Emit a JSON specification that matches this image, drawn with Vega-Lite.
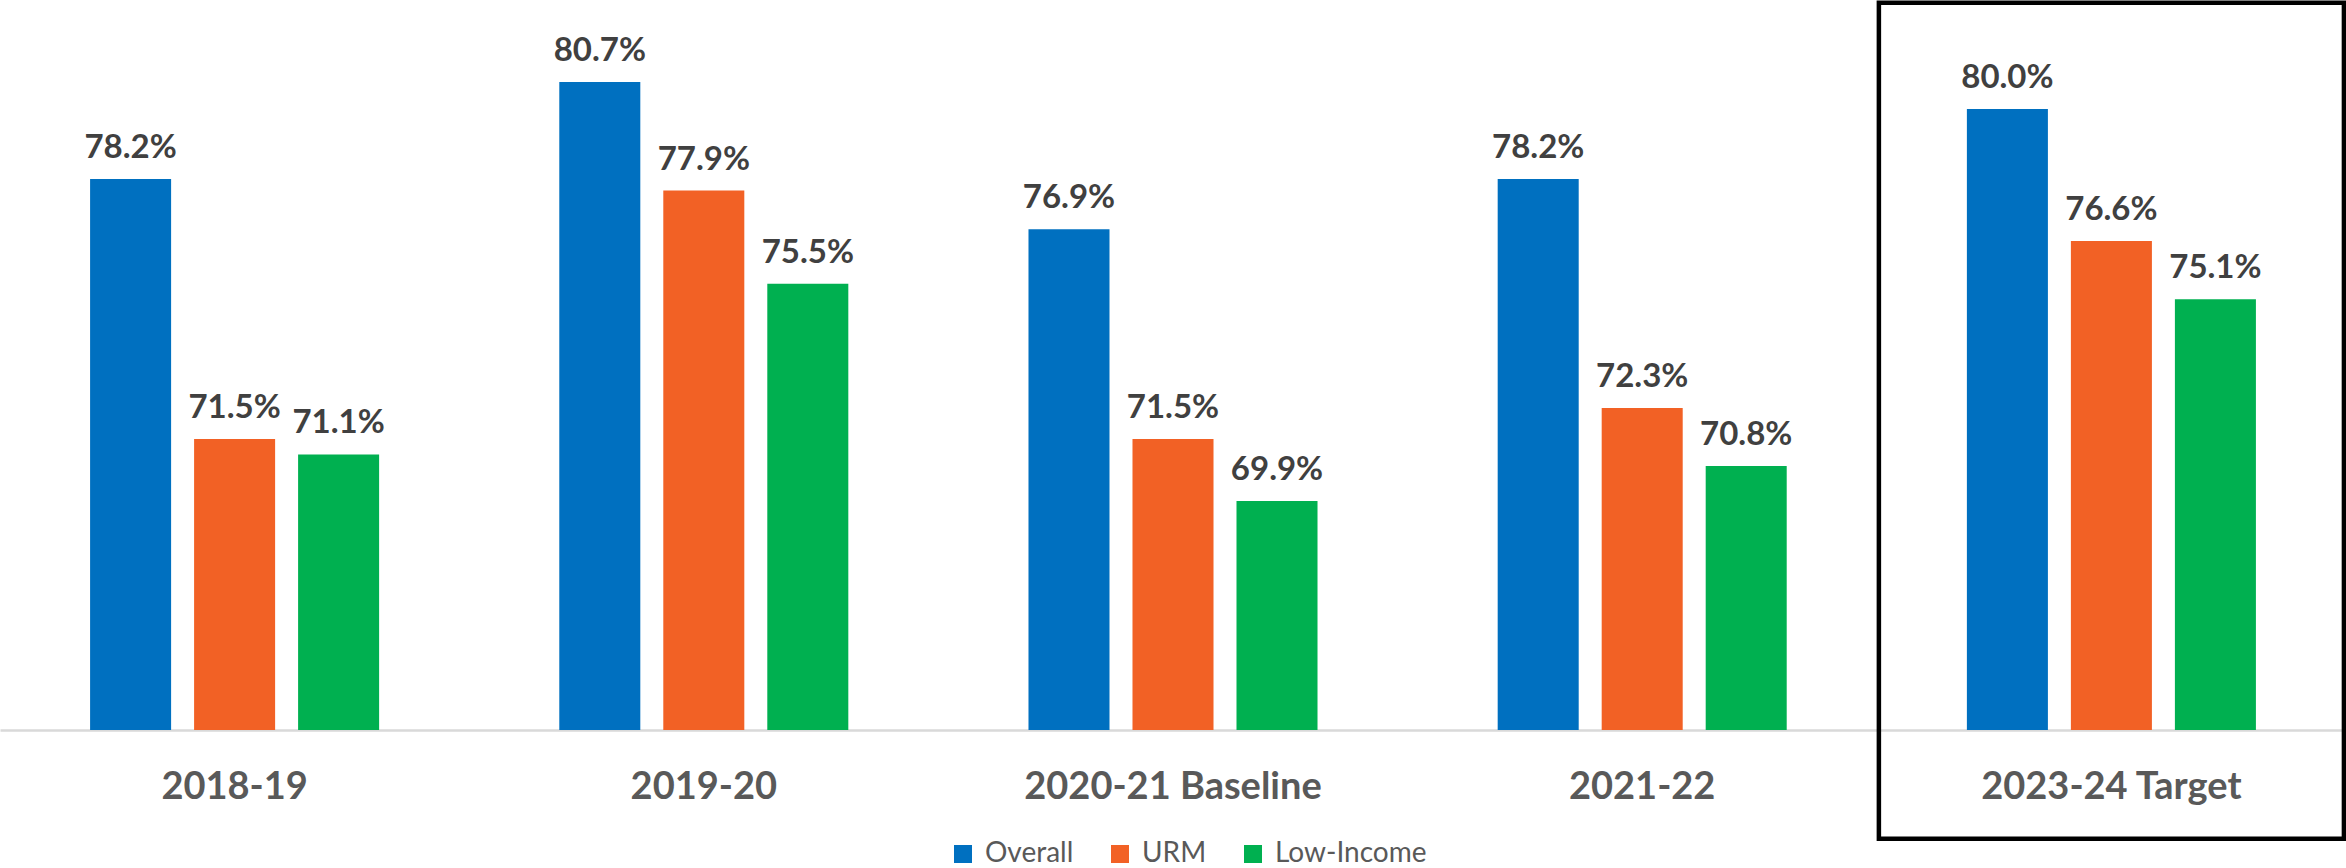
{
  "$schema": "https://vega.github.io/schema/vega-lite/v6.json",
  "autosize": {"type": "none"},
  "padding": {"top": 0, "left": 0, "right": 0, "bottom": 138},
  "width": 2346,
  "height": 730,
  "background": "white",
  "config": {"view": {"stroke": null}, "font": "Lato"},
  "data": {
    "values": [
      {"year": "2018-19", "group": "Overall", "rate": 0.782},
      {"year": "2018-19", "group": "URM", "rate": 0.715},
      {"year": "2018-19", "group": "Low-Income", "rate": 0.711},
      {"year": "2019-20", "group": "Overall", "rate": 0.807},
      {"year": "2019-20", "group": "URM", "rate": 0.779},
      {"year": "2019-20", "group": "Low-Income", "rate": 0.755},
      {"year": "2020-21 Baseline", "group": "Overall", "rate": 0.769},
      {"year": "2020-21 Baseline", "group": "URM", "rate": 0.715},
      {"year": "2020-21 Baseline", "group": "Low-Income", "rate": 0.699},
      {"year": "2021-22", "group": "Overall", "rate": 0.782},
      {"year": "2021-22", "group": "URM", "rate": 0.723},
      {"year": "2021-22", "group": "Low-Income", "rate": 0.708},
      {"year": "2023-24 Target", "group": "Overall", "rate": 0.800},
      {"year": "2023-24 Target", "group": "URM", "rate": 0.766},
      {"year": "2023-24 Target", "group": "Low-Income", "rate": 0.751}
    ]
  },
  "encoding": {
    "x": {
      "field": "year",
      "type": "nominal",
      "sort": null,
      "scale": {"paddingInner": 0.384, "paddingOuter": 0.192},
      "axis": {
        "title": null,
        "labelAngle": 0,
        "ticks": false,
        "domainColor": "#D9D9D9",
        "domainWidth": 2.5,
        "labelFont": "Lato",
        "labelFontWeight": "bold",
        "labelFontSize": 38,
        "labelColor": "#595959",
        "labelBaseline": "alphabetic",
        "labelPadding": 68,
        "labelLimit": 0
      }
    }
  },
  "layer": [
    {
      "mark": {"type": "bar", "clip": true},
      "encoding": {
        "xOffset": {
          "field": "group",
          "type": "nominal",
          "sort": ["Overall", "URM", "Low-Income"],
          "scale": {"paddingInner": 0.221, "paddingOuter": 0}
        },
        "y": {
          "field": "rate",
          "type": "quantitative",
          "scale": {"domain": [0.64, 0.8281], "zero": false, "nice": false},
          "axis": null
        },
        "color": {
          "field": "group",
          "type": "nominal",
          "sort": ["Overall", "URM", "Low-Income"],
          "scale": {"domain": ["Overall", "URM", "Low-Income"], "range": ["#0070C0", "#F26125", "#00B050"]},
          "legend": {
            "title": null,
            "orient": "none",
            "direction": "horizontal",
            "legendX": 949,
            "legendY": 840,
            "padding": 0,
            "symbolType": "square",
            "symbolSize": 324,
            "symbolStrokeWidth": 0,
            "labelFont": "Lato",
            "labelFontSize": 28,
            "labelColor": "#595959",
            "labelOffset": 8,
            "columnPadding": 32
          }
        }
      }
    },
    {
      "mark": {"type": "text", "baseline": "alphabetic", "dy": -21, "font": "Lato", "fontWeight": "bold", "fontSize": 33, "color": "#404040"},
      "encoding": {
        "xOffset": {"field": "group", "type": "nominal", "sort": ["Overall", "URM", "Low-Income"]},
        "y": {"field": "rate", "type": "quantitative"},
        "text": {"field": "rate", "type": "quantitative", "format": ".1%"}
      }
    },
    {
      "transform": [{"filter": "datum.year === '2023-24 Target' && datum.group === 'Overall'"}],
      "mark": {"type": "bar", "clip": false, "fill": null, "fillOpacity": 0, "stroke": "black", "strokeWidth": 4.5, "width": {"band": 1.609}},
      "encoding": {
        "y": {"datum": 0.8274},
        "y2": {"datum": 0.612}
      }
    }
  ]
}
